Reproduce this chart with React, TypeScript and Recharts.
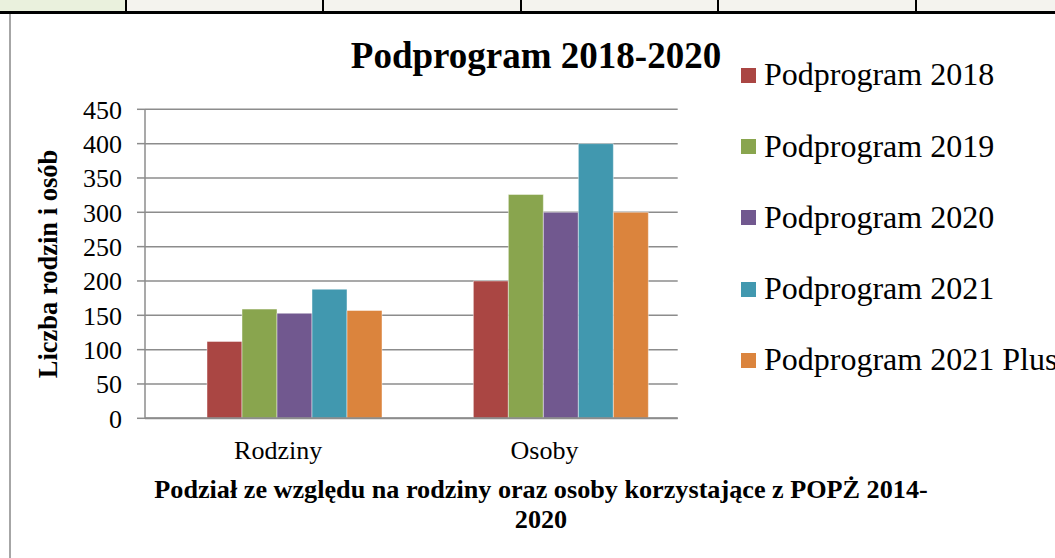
import { BarChart, Bar, XAxis, YAxis, CartesianGrid } from "recharts";

const categories = ["Rodziny", "Osoby"];
const p2018 = [112, 200];
const p2019 = [159, 326];
const p2020 = [153, 300];
const p2021 = [188, 400];
const p2021plus = [157, 300];
const yTicks = [0, 50, 100, 150, 200, 250, 300, 350, 400, 450];

const series = [
  { key: "p2018", name: "Podprogram 2018", color: "#AA4643", values: p2018 },
  { key: "p2019", name: "Podprogram 2019", color: "#89A54E", values: p2019 },
  { key: "p2020", name: "Podprogram 2020", color: "#71588F", values: p2020 },
  { key: "p2021", name: "Podprogram 2021", color: "#4198AF", values: p2021 },
  { key: "p2021plus", name: "Podprogram 2021 Plus", color: "#DB843D", values: p2021plus },
];

const data = categories.map((nazwa, i) => {
  const row: any = { nazwa };
  series.forEach((s) => (row[s.key] = s.values[i]));
  return row;
});

const serif = "'Liberation Serif', 'Times New Roman', serif";
const cellEdges = [0, 125, 322, 520, 717, 915, 1055];

export default function App() {
  return (
    <div style={{ position: "absolute", left: 0, top: 0, width: 1055, height: 558, background: "#fff", overflow: "hidden", fontFamily: serif }}>
      {/* pasek tabeli u góry */}
      {cellEdges.slice(0, -1).map((x, i) => (
        <div
          key={x}
          style={{
            position: "absolute",
            left: x,
            top: 0,
            width: cellEdges[i + 1] - x,
            height: 11,
            background: i === 0 ? "#EAF1DD" : "#F4F3EE",
            borderLeft: i === 0 ? "none" : "2px solid #000",
            boxSizing: "border-box",
          }}
        />
      ))}
      <div style={{ position: "absolute", left: 0, top: 11, width: 1055, height: 3, background: "#000" }} />
      <div style={{ position: "absolute", left: 9, top: 14, width: 2, height: 544, background: "#A6A6A6" }} />

      <div style={{ position: "absolute", left: 0, top: 0 }}>
        <BarChart
          width={1055}
          height={558}
          data={data}
          margin={{ top: 109.3, right: 377.3, bottom: 99.7, left: 65 }}
          barCategoryGap={27}
          barGap={0}
        >
          <CartesianGrid vertical={false} stroke="#8C8C8C" strokeWidth={1.5} />
          <XAxis
            dataKey="nazwa"
            height={40}
            axisLine={{ stroke: "#8C8C8C", strokeWidth: 2 }}
            tickLine={false}
            tickSize={0}
            tickMargin={22}
            tick={{ fill: "#000", fontSize: 26, fontFamily: serif }}
          />
          <YAxis
            width={80}
            domain={[0, 450]}
            ticks={yTicks}
            interval={0}
            axisLine={{ stroke: "#8C8C8C", strokeWidth: 1.5 }}
            tickLine={{ stroke: "#8C8C8C", strokeWidth: 1.5 }}
            tickSize={8}
            tickMargin={15}
            tick={{ fill: "#000", fontSize: 26, fontFamily: serif }}
          />
          {/* pusta pierwsza seria z arkusza – zajmuje miejsce, nic nie rysuje */}
          <Bar dataKey="puste" fill="none" isAnimationActive={false} />
          {series.map((s) => (
            <Bar
              key={s.key}
              dataKey={s.key}
              name={s.name}
              fill={s.color}
              stroke="rgba(255,255,255,0.45)"
              strokeWidth={1}
              isAnimationActive={false}
            />
          ))}
        </BarChart>
      </div>

      {/* tytuł */}
      <div style={{ position: "absolute", left: 236, top: 37, width: 600, textAlign: "center", fontSize: 37, lineHeight: "37px", fontWeight: "bold" }}>
        Podprogram 2018-2020
      </div>

      {/* legenda */}
      {series.map((s, i) => (
        <div key={s.key} style={{ position: "absolute", left: 741, top: 58.2 + i * 71.3, height: 32, whiteSpace: "nowrap", fontSize: 32, lineHeight: "32px" }}>
          <span style={{ position: "absolute", left: 0, top: 9.5, width: 15, height: 15, background: s.color }} />
          <span style={{ position: "absolute", left: 23, top: 0 }}>{s.name}</span>
        </div>
      ))}

      {/* tytuł osi Y */}
      <div
        style={{
          position: "absolute",
          left: 48 - 150,
          top: 264 - 15,
          width: 300,
          height: 30,
          lineHeight: "30px",
          textAlign: "center",
          fontSize: 26.5,
          fontWeight: "bold",
          whiteSpace: "nowrap",
          transform: "rotate(-90deg)",
        }}
      >
        Liczba rodzin i osób
      </div>

      {/* tytuł osi X */}
      <div style={{ position: "absolute", left: 141, top: 475, width: 800, textAlign: "center", fontSize: 26.2, lineHeight: "30px", fontWeight: "bold", whiteSpace: "nowrap" }}>
        Podział ze względu na rodziny oraz osoby korzystające z POPŻ 2014-
        <br />
        2020
      </div>
    </div>
  );
}
